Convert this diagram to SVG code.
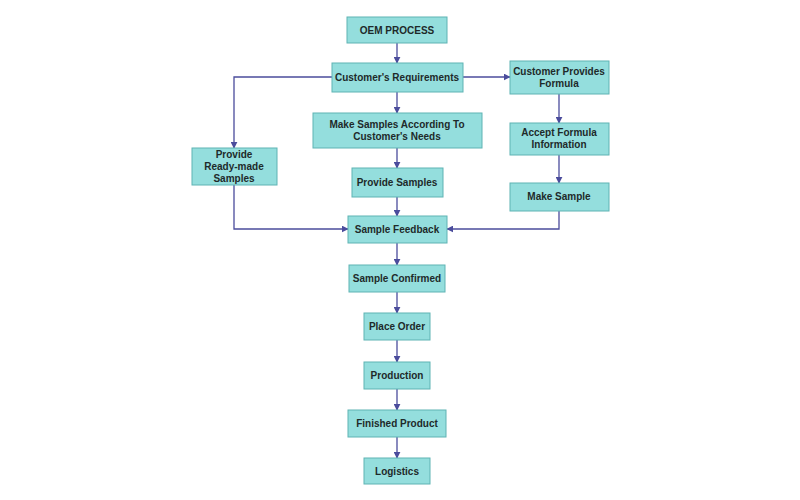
<svg xmlns="http://www.w3.org/2000/svg" width="800" height="500" viewBox="0 0 800 500">
<style>
.n rect{fill:#94dedd;stroke:#5fb3b3;stroke-width:1}
.n text{font-family:"Liberation Sans",Arial,sans-serif;font-weight:bold;font-size:10px;fill:#1e2a2a;text-anchor:middle}
.c path{fill:none;stroke:#4b4c9c;stroke-width:1.3;marker-end:url(#a)}
</style>
<defs><marker id="a" viewBox="0 0 10 10" refX="9" refY="5" markerWidth="7" markerHeight="7" orient="auto" markerUnits="userSpaceOnUse"><path d="M0,0L10,5L0,10z" fill="#4b4c9c"/></marker></defs>
<rect width="800" height="500" fill="#fff"/>
<g class="c">
<path d="M397,43V63"/>
<path d="M397,92V113"/>
<path d="M463,77H510"/>
<path d="M332,77H234V148"/>
<path d="M559,94V123"/>
<path d="M559,155V183"/>
<path d="M397,148V168"/>
<path d="M397,197V216"/>
<path d="M234,185V229H348"/>
<path d="M559,211V229H447"/>
<path d="M397,243V265"/>
<path d="M397,292V313"/>
<path d="M397,340V362"/>
<path d="M397,389V410"/>
<path d="M397,437V458"/>
</g>
<g class="n" id="oem"><rect x="347" y="17" width="100" height="26"/><text x="397" y="34">OEM PROCESS</text></g>
<g class="n" id="req"><rect x="332" y="63" width="131" height="29"/><text x="397" y="81">Customer's Requirements</text></g>
<g class="n" id="formula"><rect x="510" y="61" width="99" height="33"/><text x="559" y="75">Customer Provides</text><text x="559" y="87">Formula</text></g>
<g class="n" id="make"><rect x="313" y="113" width="169" height="35"/><text x="397" y="128">Make Samples According To</text><text x="397" y="140">Customer's Needs</text></g>
<g class="n" id="accept"><rect x="510" y="123" width="99" height="32"/><text x="559" y="136">Accept Formula</text><text x="559" y="148">Information</text></g>
<g class="n" id="ready"><rect x="192" y="148" width="85" height="37"/><text x="234" y="158">Provide</text><text x="234" y="170">Ready-made</text><text x="234" y="182">Samples</text></g>
<g class="n" id="provide"><rect x="352" y="168" width="91" height="29"/><text x="397" y="186">Provide Samples</text></g>
<g class="n" id="makes"><rect x="510" y="183" width="99" height="28"/><text x="559" y="200">Make Sample</text></g>
<g class="n" id="fb"><rect x="348" y="216" width="99" height="27"/><text x="397" y="233">Sample Feedback</text></g>
<g class="n" id="conf"><rect x="349" y="265" width="96" height="27"/><text x="397" y="282">Sample Confirmed</text></g>
<g class="n" id="order"><rect x="364" y="313" width="66" height="27"/><text x="397" y="330">Place Order</text></g>
<g class="n" id="prod"><rect x="364" y="362" width="66" height="27"/><text x="397" y="379">Production</text></g>
<g class="n" id="fin"><rect x="348" y="410" width="98" height="27"/><text x="397" y="427">Finished Product</text></g>
<g class="n" id="log"><rect x="364" y="458" width="66" height="26"/><text x="397" y="475">Logistics</text></g>
</svg>
